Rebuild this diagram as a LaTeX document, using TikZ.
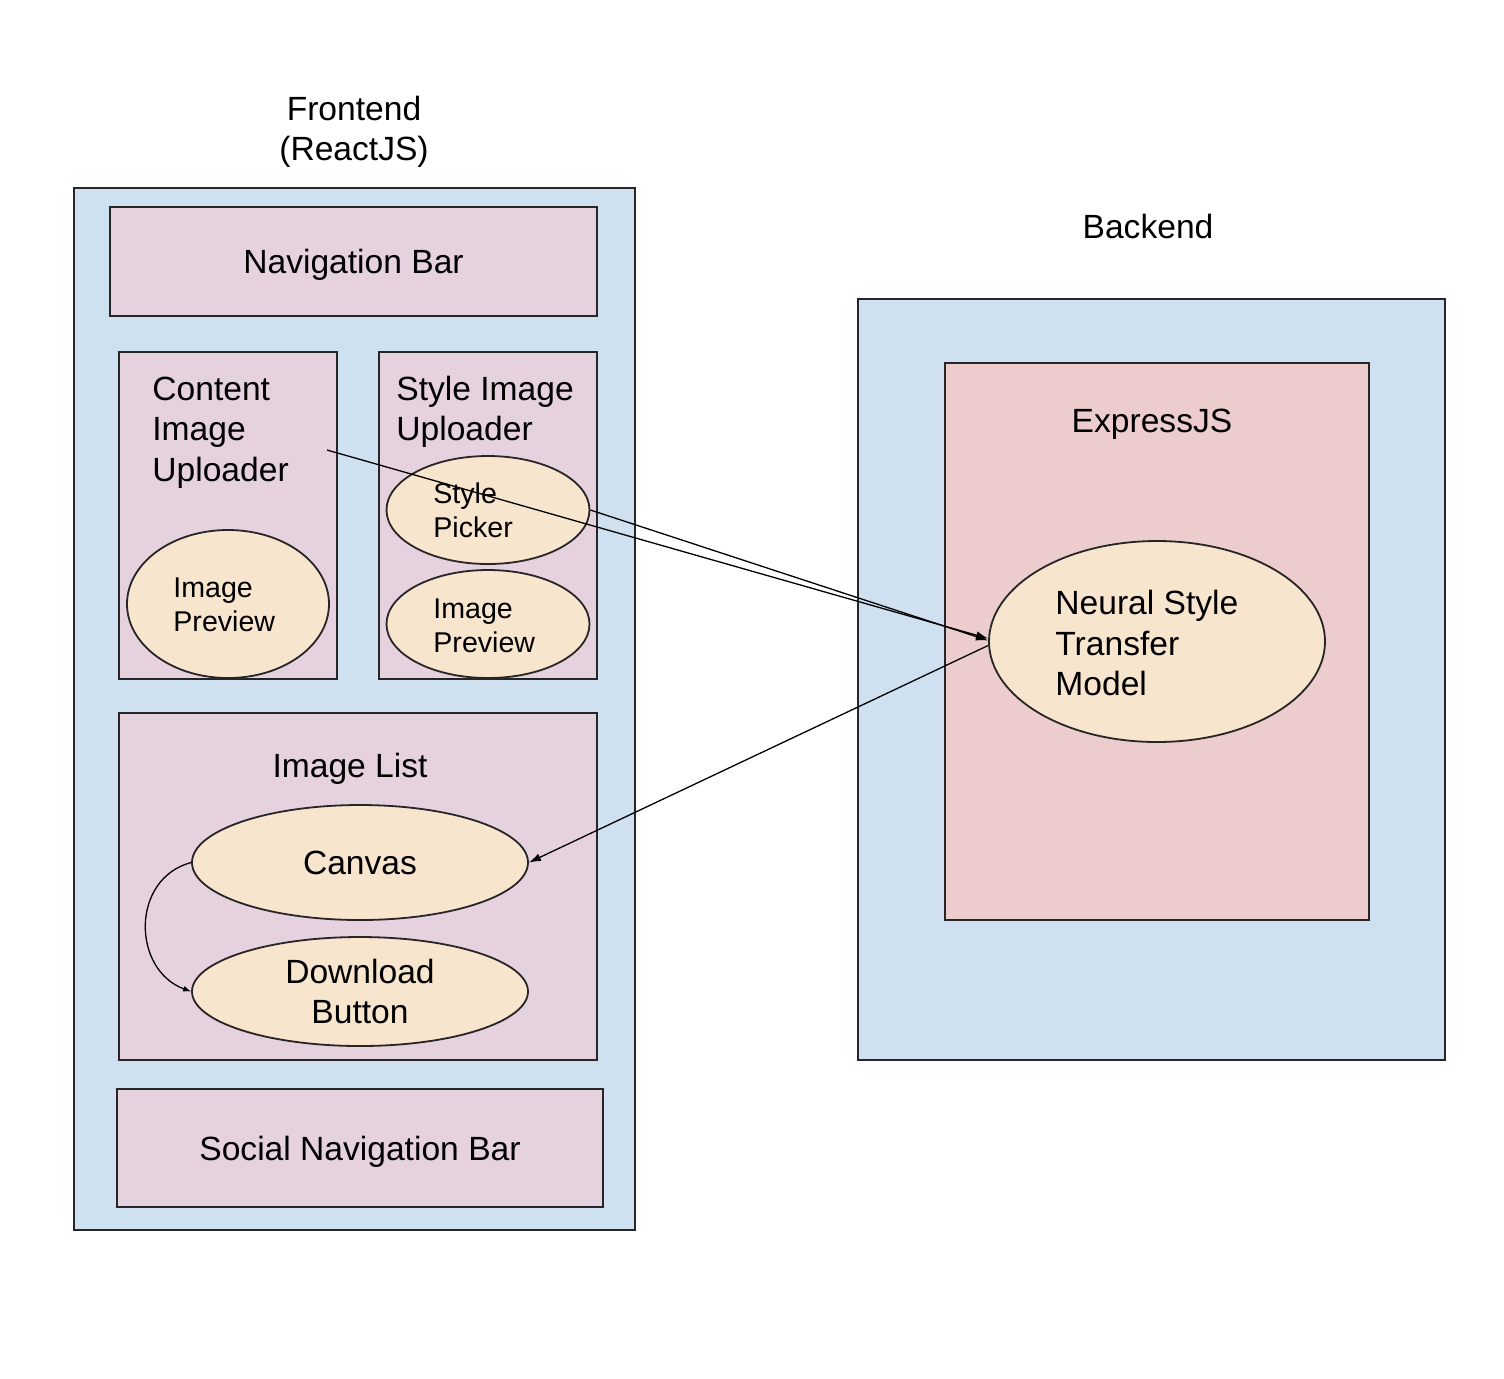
\documentclass[tikz,border=0pt]{standalone}
\usepackage{fontspec}
\setmainfont{Liberation Sans}
\usetikzlibrary{arrows.meta,shapes.geometric}
\definecolor{paneblue}{HTML}{CFE0F1}
\definecolor{boxpink}{HTML}{E6D1DE}
\definecolor{exprpink}{HTML}{ECCCCC}
\definecolor{nodetan}{HTML}{F8E5CE}
\tikzset{
	pane/.style={rectangle, draw=black!85, line width=0.9pt, fill=paneblue, inner sep=0pt},
	part/.style={rectangle, draw=black!85, line width=0.9pt, fill=boxpink, inner sep=0pt},
	oval/.style={ellipse, draw=black!85, line width=0.9pt, fill=nodetan, inner sep=0pt},
	big/.style={font=\fontsize{16.8}{20.3}\selectfont, align=center, inner sep=0pt, text depth=0pt},
	small/.style={font=\fontsize{14.3}{17}\selectfont, align=left, inner sep=0pt},
	arr/.style={-{Latex[length=6pt,width=4pt]}, line width=0.65pt}
}
\begin{document}
\begin{tikzpicture}[x=0.5pt,y=-0.5pt]
	\useasboundingbox (0,0) rectangle (1504,1378);
	% frontend
	\node (FE) at (354.5,709)	[pane, minimum width=280.5pt, minimum height=521pt]	{};
	\node (FEtitle) at (354,128.5)	[big]	{Frontend\\(ReactJS)};
	\node (NavBar) at (353.5,261.5)	[part, big, minimum width=243.5pt, minimum height=54.5pt]	{Navigation Bar};
	\node (CIU) at (228,515.5)	[part, minimum width=109pt, minimum height=163.5pt]	{};
	\node (CIUtext) at (152,429)	[big, align=left, anchor=west]	{Content\\Image\\Uploader};
	\node (SIU) at (488,515.5)	[part, minimum width=109pt, minimum height=163.5pt]	{};
	\node (SIUtext) at (396,408.5)	[big, align=left, anchor=west]	{Style Image\\Uploader};
	\node (PrevL) at (228,604)	[oval, minimum width=101pt, minimum height=74pt]	{};
	\node (PrevLtext) at (173,605)	[small, anchor=west]	{Image\\Preview};
	\node (Picker) at (488,510)	[oval, minimum width=101.5pt, minimum height=54pt]	{};
	\node (Pickertext) at (433,510)	[small, anchor=west]	{Style\\Picker};
	\node (PrevR) at (488,624)	[oval, minimum width=101.5pt, minimum height=54pt]	{};
	\node (PrevRtext) at (433,626)	[small, anchor=west]	{Image\\Preview};
	\node (List) at (358,886.5)	[part, minimum width=239pt, minimum height=173.5pt]	{};
	\node (Listtext) at (350,765)	[big]	{Image List};
	\node (Canvas) at (360,862.5)	[oval, big, minimum width=168pt, minimum height=57.5pt]	{Canvas};
	\node (Download) at (360,991.5)	[oval, big, minimum width=168pt, minimum height=54.5pt]	{Download\\Button};
	\node (Social) at (360,1148)	[part, big, minimum width=243pt, minimum height=59pt]	{Social Navigation Bar};
	% backend
	\node (BE) at (1151.5,679.5)	[pane, minimum width=293.5pt, minimum height=380.5pt]	{};
	\node (BEtitle) at (1148,226)	[big]	{Backend};
	\node (Express) at (1157,641.5)	[part, fill=exprpink, minimum width=212pt, minimum height=278.5pt]	{};
	\node (Expresstext) at (1152,421)	[big]	{ExpressJS};
	\node (NST) at (1157,641.5)	[oval, minimum width=168pt, minimum height=100.5pt]	{};
	\node (NSTtext) at (1055,643)	[big, align=left, anchor=west]	{Neural Style\\Transfer\\Model};
	% connectors
	\coordinate (CIUout) at (327,450);
	\draw[arr] (CIUout) -- ([yshift=1.5pt]NST.west);
	\draw[arr] (Picker.east) -- ([yshift=0.5pt]NST.west);
	\draw[arr] ([yshift=-2pt]NST.west) -- (Canvas.east);
	\draw[-{Latex[length=4pt,width=3pt]}, line width=0.65pt] (Canvas.west) to[out=195, in=160, looseness=1.25] (Download.west);
\end{tikzpicture}
\end{document}
